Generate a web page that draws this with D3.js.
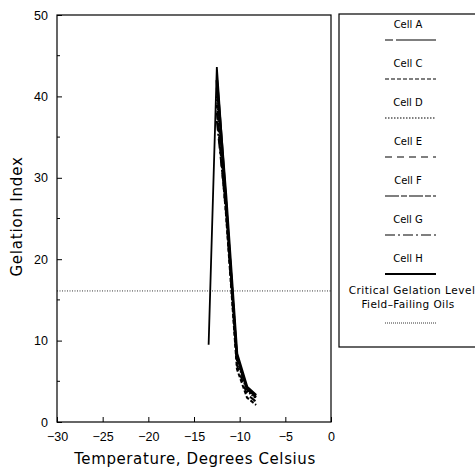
<!DOCTYPE html>
<html>
<head>
<meta charset="utf-8">
<script src="https://cdn.jsdelivr.net/npm/d3@7"></script>
<style>
  body { margin: 0; background: #fff; }
  svg { font-family: "DejaVu Sans", sans-serif; }
</style>
</head>
<body>
<div class="chart"></div>
<script>
var temps = [-13.4, -12.5, -11.5, -10.3, -9.2, -8.2];

var cellNames = ["Cell A", "Cell C", "Cell D", "Cell E", "Cell F", "Cell G", "Cell H"];
var cellA = [9.5, 43.6, 27.5, 8.2, 4.2, 3.1];
var cellC = [null, 39, 25.5, 6.5, 3.0, 2.1];
var cellD = [null, 40, 26.5, 7.6, 3.8, 2.9];
var cellE = [null, 38, 25.8, 7.0, 3.4, 2.5];
var cellF = [null, 41, 27.2, 8.0, 4.0, 3.0];
var cellG = [null, 37, 26.3, 7.8, 4.0, 3.2];
var cellH = [null, 42, 27.8, 8.4, 4.3, 3.3];
var criticalLevel = 16.1;

var xTicks = [-30, -25, -20, -15, -10, -5, 0];
var yTicks = [0, 10, 20, 30, 40, 50];

var dashes = [null, "4,2", "1.5,1.5", "7,5", "14,2,6,2", "10,3,2,3", null];
var legendDashes = ["8,3,40", "4,2", "1.5,1.5", "7,5", "14,2,6,2", "10,3,2,3", null];
var widths = [1.8, 2, 2, 2, 2, 2, 2.6];

var series = [cellA, cellC, cellD, cellE, cellF, cellG, cellH];

var width = 475, height = 469;
var svg = d3.select(".chart").append("svg")
    .attr("width", width)
    .attr("height", height);

var x = d3.scaleLinear().domain([-30, 0]).range([57, 331]);
var y = d3.scaleLinear().domain([0, 50]).range([422, 15]);

// frame
svg.append("rect")
    .attr("x", x(-30)).attr("y", y(50))
    .attr("width", x(0) - x(-30)).attr("height", y(0) - y(50))
    .attr("fill", "none").attr("stroke", "#000").attr("stroke-width", 1.2);

// axes: ticks point inward
var xAxis = svg.append("g")
    .attr("transform", "translate(0," + y(0) + ")")
    .call(d3.axisBottom(x).tickValues(xTicks).tickSize(-5).tickPadding(10)
        .tickFormat(d => d === 0 ? "0" : d3.format("")(d).replace("-", "\u2212")));
xAxis.select(".domain").remove();
xAxis.selectAll("text").attr("font-size", 12.5).attr("fill", "#000");
xAxis.selectAll("line").attr("stroke", "#000");

var yAxis = svg.append("g")
    .attr("transform", "translate(" + x(-30) + ",0)")
    .call(d3.axisLeft(y).tickValues(yTicks).tickSize(-5).tickPadding(9));
yAxis.select(".domain").remove();
yAxis.selectAll("text").attr("font-size", 12.5).attr("fill", "#000");
yAxis.selectAll("line").attr("stroke", "#000");

// minor y ticks
svg.append("g").selectAll("line")
    .data([5, 15, 25, 35, 45])
    .enter().append("line")
    .attr("x1", x(-30)).attr("x2", x(-30) + 3)
    .attr("y1", d => y(d)).attr("y2", d => y(d))
    .attr("stroke", "#000");

// axis titles
svg.append("text")
    .attr("x", (x(-30) + x(0)) / 2 + 1).attr("y", 464)
    .attr("text-anchor", "middle").attr("font-size", 15)
    .attr("letter-spacing", 0.6)
    .text("Temperature, Degrees Celsius");

svg.append("text")
    .attr("transform", "translate(22," + (y(25) - 2) + ") rotate(-90)")
    .attr("text-anchor", "middle").attr("font-size", 15)
    .attr("letter-spacing", 0.8)
    .text("Gelation Index");

// critical level
svg.append("line")
    .attr("x1", x(-30)).attr("x2", x(0))
    .attr("y1", y(criticalLevel)).attr("y2", y(criticalLevel))
    .attr("stroke", "#000").attr("stroke-width", 0.8)
    .attr("stroke-dasharray", "1,1.5");

var line = d3.line()
    .defined(d => d[1] !== null)
    .x(d => x(d[0]))
    .y(d => y(d[1]));

svg.append("g").selectAll("path")
    .data(series)
    .enter().append("path")
    .attr("d", s => line(s.map((v, i) => [temps[i], v])))
    .attr("fill", "none")
    .attr("stroke", "#000")
    .attr("stroke-width", (d, i) => widths[i])
    .attr("stroke-dasharray", (d, i) => dashes[i]);

// legend
var legend = svg.append("g");
legend.append("rect")
    .attr("x", 339).attr("y", 14)
    .attr("width", 150).attr("height", 333)
    .attr("fill", "#fff").attr("stroke", "#000").attr("stroke-width", 1.2);

var lx = 408, step = 39;
cellNames.forEach(function (name, i) {
    var ty = 28 + i * step;
    legend.append("text")
        .attr("x", lx).attr("y", ty)
        .attr("text-anchor", "middle").attr("font-size", 10)
        .text(name);
    legend.append("line")
        .attr("x1", 385).attr("x2", 436)
        .attr("y1", ty + 12).attr("y2", ty + 12)
        .attr("stroke", "#000")
        .attr("stroke-width", i === 6 ? 2 : 1.2)
        .attr("stroke-dasharray", legendDashes[i]);
});
legend.append("text")
    .attr("x", lx + 4).attr("y", 294)
    .attr("text-anchor", "middle").attr("font-size", 10.5)
    .attr("letter-spacing", 0.5)
    .text("Critical Gelation Level");
legend.append("text")
    .attr("x", lx).attr("y", 308)
    .attr("text-anchor", "middle").attr("font-size", 10.5)
    .attr("letter-spacing", 0.4)
    .text("Field\u2013Failing Oils");
legend.append("line")
    .attr("x1", 385).attr("x2", 437)
    .attr("y1", 323).attr("y2", 323)
    .attr("stroke", "#000").attr("stroke-width", 0.8)
    .attr("stroke-dasharray", "1,1");
</script>
</body>
</html>
